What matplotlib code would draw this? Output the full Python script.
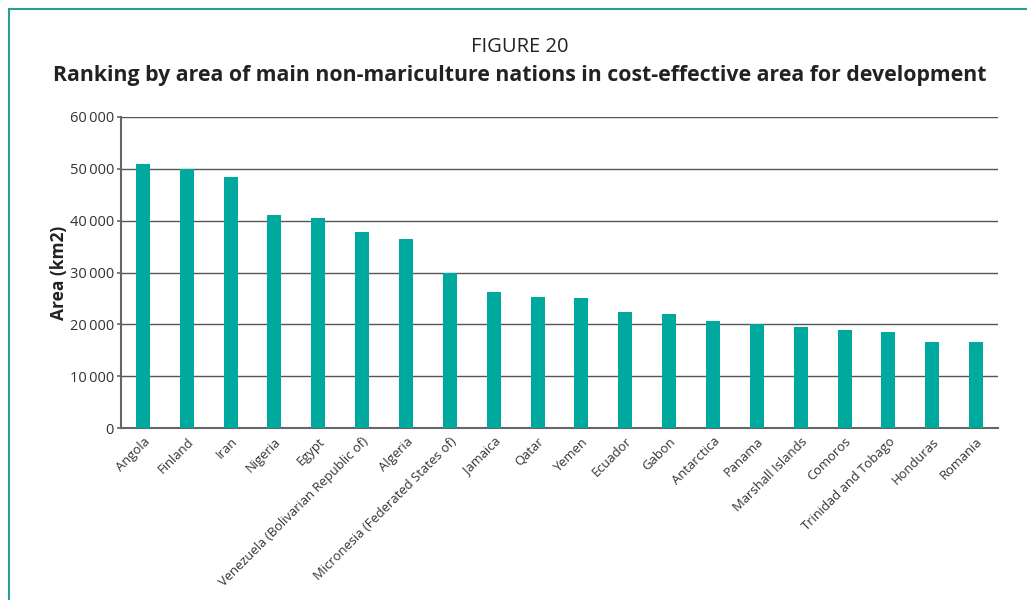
import matplotlib
matplotlib.use("Agg")
import matplotlib.pyplot as plt
from matplotlib.lines import Line2D
from matplotlib.ticker import FuncFormatter

plt.rcParams['font.family'] = ['Open Sans', 'DejaVu Sans']

countries = ["Angola", "Finland", "Iran", "Nigeria", "Egypt",
             "Venezuela (Bolivarian Republic of)", "Algeria",
             "Micronesia (Federated States of)", "Jamaica", "Qatar", "Yemen",
             "Ecuador", "Gabon", "Antarctica", "Panama", "Marshall Islands",
             "Comoros", "Trinidad and Tobago", "Honduras", "Romania"]
area = [51000, 50000, 48400, 41000, 40600, 37800, 36500, 30000, 26200, 25300,
        25100, 22400, 22000, 20600, 20100, 19500, 18900, 18500, 16600, 16500]
yticks = [0, 10000, 20000, 30000, 40000, 50000, 60000]

fig = plt.figure(figsize=(10.27, 6.0), dpi=100)
ax = fig.add_axes([121/1027, 1 - 428/600, 877/1027, 311/600])

x = range(len(countries))
ax.bar(x, area, width=0.32, color="#00a99d", zorder=3)

ax.set_xlim(-0.5, len(countries) - 0.5)
ax.set_ylim(0, 60000)
ax.set_yticks(yticks)
ax.yaxis.set_major_formatter(FuncFormatter(lambda v, p: f"{int(v):,}".replace(",", "\u2009")))
ax.grid(axis="y", color="#555555", linewidth=1.0, zorder=1)

ax.set_xticks(list(x))
ax.set_xticklabels(countries, rotation=45, ha="right", rotation_mode="anchor",
                   fontsize=9.4, color="#333333")
ax.tick_params(axis="x", length=0, pad=5)
ax.tick_params(axis="y", length=3, width=1.2, color="#666666", labelsize=10.5,
               labelcolor="#333333", pad=2)

for s in ["top", "right"]:
    ax.spines[s].set_visible(False)
for s in ["left", "bottom"]:
    ax.spines[s].set_color("#666666")
    ax.spines[s].set_linewidth(1.5)

ax.set_ylabel("Area (km2)", fontsize=12.5, fontweight="bold", color="#222222", labelpad=1)

fig.text(520/1027, 1 - 47/600, "FIGURE 20", ha="center", va="center",
         fontsize=14.5, color="#222222")
fig.text(520/1027, 1 - 75/600,
         "Ranking by area of main non-mariculture nations in cost-effective area for development",
         ha="center", va="center", fontsize=15.3, fontweight="bold", color="#222222")

# teal frame on left and top
fig.add_artist(Line2D([9/1027, 9/1027], [0, 1 - 9/600], transform=fig.transFigure,
                      color="#2a9d97", linewidth=1.5))
fig.add_artist(Line2D([9/1027, 1], [1 - 9/600, 1 - 9/600], transform=fig.transFigure,
                      color="#2a9d97", linewidth=1.5))

fig.savefig("out.png", dpi=100)
